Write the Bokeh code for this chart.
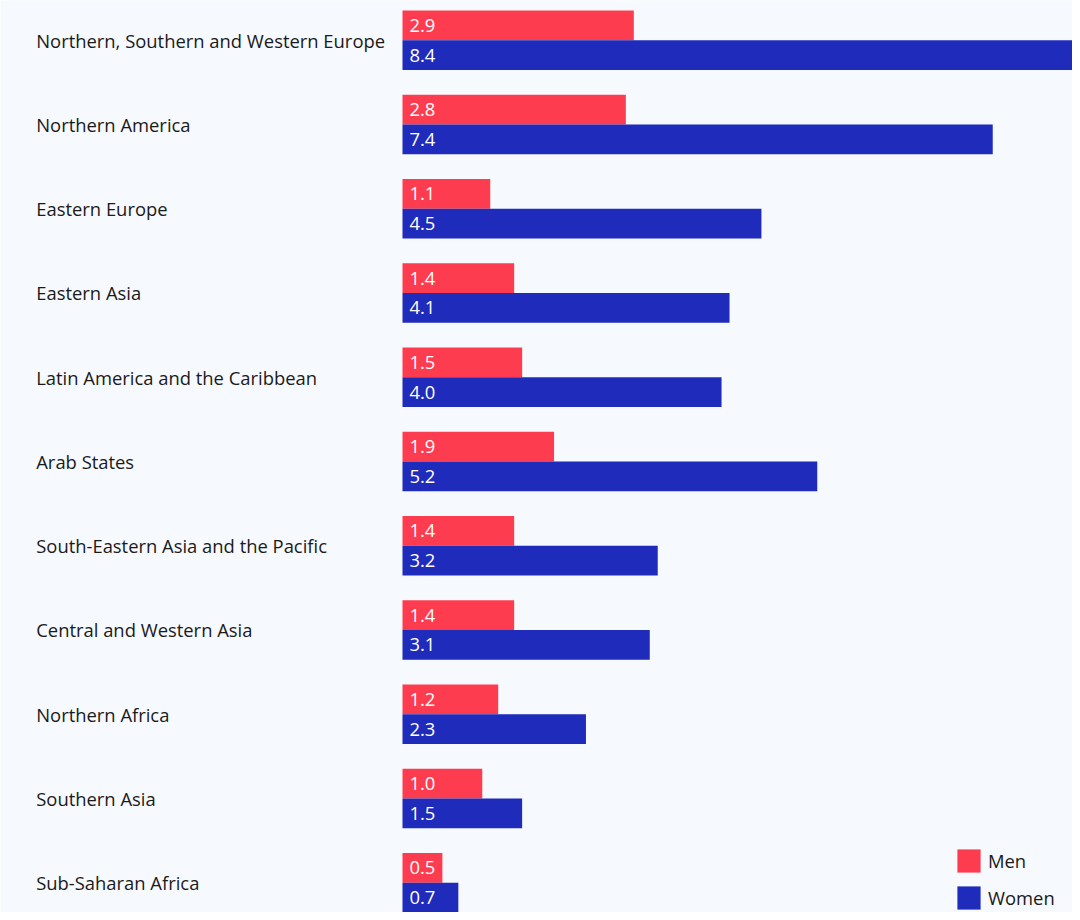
from bokeh.plotting import figure
from bokeh.models import ColumnDataSource, Range1d, Legend, LegendItem
from bokeh.core.properties import value
from bokeh.embed import file_html
from bokeh.resources import INLINE

regions = [
    "Northern, Southern and Western Europe",
    "Northern America",
    "Eastern Europe",
    "Eastern Asia",
    "Latin America and the Caribbean",
    "Arab States",
    "South-Eastern Asia and the Pacific",
    "Central and Western Asia",
    "Northern Africa",
    "Southern Asia",
    "Sub-Saharan Africa",
]
men = [2.9, 2.8, 1.1, 1.4, 1.5, 1.9, 1.4, 1.4, 1.2, 1.0, 0.5]
women = [8.4, 7.4, 4.5, 4.1, 4.0, 5.2, 3.2, 3.1, 2.3, 1.5, 0.7]

RED = "#fd3c4f"
BLUE = "#1f2bbb"
BG = "#f6f9fd"
FONT = "Open Sans"

W, H = 1072, 912
sx = W / 1080.0
sy = H / 920.0
left_px = 405 * sx          # where value 0 sits
xmax = 8.4
ppu = (W - left_px) / xmax
pitch = 85.0 * sy
bar_h = 30.0 * sy / pitch
first_center_px = 40.0 * sy

idx = list(range(len(regions)))
ytop = -first_center_px / pitch
ybot = (H - first_center_px) / pitch

src = ColumnDataSource(dict(
    idx=idx,
    region=regions,
    men=men,
    women=women,
    ym=[i - bar_h / 2 for i in idx],
    yw=[i + bar_h / 2 for i in idx],
    men_lbl=[f"{v:.1f}" for v in men],
    women_lbl=[f"{v:.1f}" for v in women],
    zero=[0] * len(idx),
))

p = figure(width=W, height=H, output_backend="svg", toolbar_location=None,
           x_range=Range1d(-left_px / ppu, xmax), y_range=Range1d(ybot, ytop),
           min_border=0, min_border_left=0, min_border_right=0,
           min_border_top=0, min_border_bottom=0,
           background_fill_color=BG, border_fill_color=BG)
p.axis.visible = False
p.grid.visible = False
p.outline_line_color = None

rm = p.hbar(y="ym", right="men", left=0, height=bar_h, source=src,
            fill_color=RED, line_color=None)
rw = p.hbar(y="yw", right="women", left=0, height=bar_h, source=src,
            fill_color=BLUE, line_color=None)

FS = "18.4px"
common = dict(text_font=value(FONT), text_font_size=FS, text_baseline="middle")
p.text(x="zero", y="ym", text="men_lbl", source=src, x_offset=7 * sx,
       text_color="white", text_align="left", **common)
p.text(x="zero", y="yw", text="women_lbl", source=src, x_offset=7 * sx,
       text_color="white", text_align="left", **common)
p.text(x="zero", y="idx", text="region", source=src, x_offset=36 * sx - left_px,
       text_color="#1a1a1a", text_align="left", **common)

gw = 23 * sx / 0.8
inset = gw * 0.1
legend = Legend(items=[LegendItem(label="Men", renderers=[rm]),
                       LegendItem(label="Women", renderers=[rw])],
                location=(964 * sx - inset, 0), padding=0, margin=0,
                spacing=int(round(37 * sy - gw)),
                glyph_width=int(round(gw)), glyph_height=int(round(gw)),
                label_standoff=int(round(8 * sx - inset)),
                label_height=int(round(gw)),
                label_text_font=FONT, label_text_font_size=FS,
                label_text_color="#1a1a1a",
                border_line_color=None, background_fill_alpha=0)
p.add_layout(legend)

open("out.html", "w").write(file_html(p, INLINE))
